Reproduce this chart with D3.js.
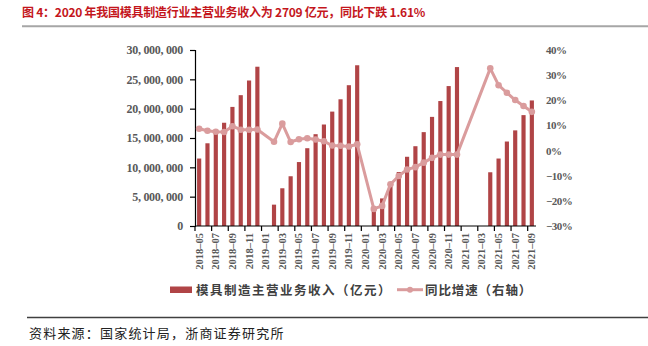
<!DOCTYPE html>
<html>
<head>
<meta charset="utf-8">
<script src="https://cdn.jsdelivr.net/npm/d3@7"></script>
<style>
  html, body { margin: 0; padding: 0; background: #fff; }
  svg { display: block; }
</style>
</head>
<body>
<svg id="chart" width="648" height="346"></svg>
<script>
// Monthly categories, 2018-05 through 2021-09
const months = [
  "2018-05","2018-06","2018-07","2018-08","2018-09","2018-10","2018-11","2018-12",
  "2019-01","2019-02","2019-03","2019-04","2019-05","2019-06","2019-07","2019-08","2019-09","2019-10","2019-11","2019-12",
  "2020-01","2020-02","2020-03","2020-04","2020-05","2020-06","2020-07","2020-08","2020-09","2020-10","2020-11","2020-12",
  "2021-01","2021-02","2021-03","2021-04","2021-05","2021-06","2021-07","2021-08","2021-09"
];

// Cumulative main business revenue (left axis); null = not reported
const revenue = [
  11500000, 14100000, 15800000, 17600000, 20300000, 22300000, 24800000, 27150000,
  null, 3640000, 6430000, 8480000, 10900000, 13260000, 15650000, 17300000, 19500000, 21600000, 24000000, 27400000,
  null, 2900000, 4700000, 7100000, 9200000, 11800000, 13600000, 16000000, 18600000, 21300000, 23850000, 27090000,
  null, null, null, 9160000, 11500000, 14400000, 16300000, 18900000, 21400000
];

// Year-on-year growth, % (right axis)
const growth = [
  8.7, 7.9, 7.5, 7.4, 9.7, 8.3, 8.3, 8.4,
  null, 3.5, 10.7, 3.4, 4.5, 4.9, 4.4, 3.7, 2.0, 1.9, 1.6, 2.5,
  null, -23.2, -22.0, -13.4, -10.1, -7.5, -6.6, -4.8, -2.9, -1.6, -1.6, -1.61,
  null, null, null, 32.7, 26.0, 23.0, 20.1, 17.7, 15.4
];

const leftTicks = [0, 5000000, 10000000, 15000000, 20000000, 25000000, 30000000];
const rightTicks = [-30, -20, -10, 0, 10, 20, 30, 40];

const titleText = "图 4：2020 年我国模具制造行业主营业务收入为 2709 亿元，同比下跌 1.61%";
const legendBar = "模具制造主营业务收入（亿元）";
const legendLine = "同比增速（右轴）";
const sourceText = "资料来源：国家统计局，浙商证券研究所";

const svg = d3.select("#chart");
const plot = { left: 195, right: 536, top: 50, bottom: 226 };

const barColor = "#B04446";
const lineColor = "#DA9C9D";
const axisText = "#595959";
const serif = "'Liberation Serif', 'DejaVu Serif', serif";
const cjk = "'Noto Sans CJK SC', sans-serif";

const x = d3.scaleBand().domain(months).range([plot.left, plot.right]).paddingInner(0.5).paddingOuter(0.25);
const yL = d3.scaleLinear().domain([0, 30000000]).range([plot.bottom, plot.top]);
const yR = d3.scaleLinear().domain([-30, 40]).range([plot.bottom, plot.top]);
const step = x.step();

// Title and rule
svg.append("text")
  .attr("x", 22).attr("y", 17)
  .attr("font-family", cjk).attr("font-weight", "bold").attr("font-size", 12)
  .attr("letter-spacing", -0.25)
  .attr("fill", "#C4161C")
  .text(titleText);
svg.append("line")
  .attr("x1", 22).attr("x2", 648).attr("y1", 26.3).attr("y2", 26.3)
  .attr("stroke", "#A6A6A6").attr("stroke-width", 2);

// Bars
const rows = months.map((m, i) => ({ m, v: revenue[i], g: growth[i] }));
svg.append("g").selectAll("rect")
  .data(rows.filter(d => d.v != null))
  .join("rect")
  .attr("x", d => x(d.m))
  .attr("width", x.bandwidth())
  .attr("y", d => yL(d.v))
  .attr("height", d => yL(0) - yL(d.v))
  .attr("fill", barColor);

// Left axis
const gL = svg.append("g").attr("transform", `translate(${plot.left},0)`)
  .call(d3.axisLeft(yL).tickValues(leftTicks).tickSize(5).tickPadding(7)
    .tickFormat(d => d === 0 ? "0" : d3.format(",")(d).replace(/,/g, ", ")));
gL.select(".domain").attr("stroke", "#000").attr("stroke-width", 1.2);
gL.selectAll(".tick line").attr("stroke", "#000").attr("stroke-width", 1.2);
gL.selectAll(".tick text").attr("font-family", serif).attr("font-size", 12)
  .attr("fill", axisText).attr("font-weight", "bold").attr("letter-spacing", -0.3);

// Right axis (labels only)
const gR = svg.append("g").attr("transform", `translate(${plot.right},0)`)
  .call(d3.axisRight(yR).tickValues(rightTicks).tickSize(0).tickPadding(10)
    .tickFormat(d => (d < 0 ? "\u2212" + Math.abs(d) : d) + "%"));
gR.select(".domain").remove();
gR.selectAll(".tick text").attr("font-family", serif).attr("font-size", 11)
  .attr("fill", axisText).attr("font-weight", "bold").attr("letter-spacing", -0.5);

// Bottom axis: tick marks on every second category boundary, labels on every second category
const gX = svg.append("g");
gX.append("line")
  .attr("x1", plot.left).attr("x2", plot.right)
  .attr("y1", plot.bottom).attr("y2", plot.bottom)
  .attr("stroke", "#000").attr("stroke-width", 1.2);
const tickIdx = d3.range(0, months.length + 1, 2);
gX.selectAll("line.tk").data(tickIdx).join("line")
  .attr("class", "tk")
  .attr("x1", i => plot.left + i * step).attr("x2", i => plot.left + i * step)
  .attr("y1", plot.bottom).attr("y2", plot.bottom + 5)
  .attr("stroke", "#000").attr("stroke-width", 1.2);
gX.selectAll("text").data(months.filter((m, i) => i % 2 === 0)).join("text")
  .attr("transform", m => `translate(${x(m) + x.bandwidth() / 2 + 3.5},${plot.bottom + 7}) rotate(-90)`)
  .attr("text-anchor", "end")
  .attr("font-family", serif).attr("font-size", 10.5).attr("font-weight", "bold")
  .attr("fill", axisText)
  .text(m => m.replace("-", "\u2013"));

// Growth line (connects across unreported months)
const pts = rows.filter(d => d.g != null);
const line = d3.line()
  .x(d => x(d.m) + x.bandwidth() / 2)
  .y(d => yR(d.g));
svg.append("path")
  .datum(pts)
  .attr("d", line)
  .attr("fill", "none")
  .attr("stroke", lineColor)
  .attr("stroke-width", 3)
  .attr("stroke-linejoin", "round");
svg.append("g").selectAll("circle")
  .data(pts)
  .join("circle")
  .attr("cx", d => x(d.m) + x.bandwidth() / 2)
  .attr("cy", d => yR(d.g))
  .attr("r", 3.3)
  .attr("fill", lineColor);

// Legend
const lg = svg.append("g");
lg.append("rect").attr("x", 170).attr("y", 286.5).attr("width", 22).attr("height", 6.5).attr("fill", barColor);
lg.append("text").attr("x", 196).attr("y", 294.5)
  .attr("font-family", cjk).attr("font-weight", "bold").attr("font-size", 12.5)
  .attr("letter-spacing", 1.5).attr("fill", "#404040").text(legendBar);
lg.append("line").attr("x1", 397).attr("x2", 423).attr("y1", 289.7).attr("y2", 289.7)
  .attr("stroke", lineColor).attr("stroke-width", 3);
lg.append("circle").attr("cx", 410).attr("cy", 289.7).attr("r", 3).attr("fill", lineColor);
lg.append("text").attr("x", 425).attr("y", 294.5)
  .attr("font-family", cjk).attr("font-weight", "bold").attr("font-size", 12.5)
  .attr("letter-spacing", 0.9).attr("fill", "#404040").text(legendLine);

// Source note
svg.append("line")
  .attr("x1", 27).attr("x2", 648).attr("y1", 317.5).attr("y2", 317.5)
  .attr("stroke", "#404040").attr("stroke-width", 1.5);
svg.append("text").attr("x", 29).attr("y", 338)
  .attr("font-family", cjk).attr("font-size", 13).attr("letter-spacing", 1.2)
  .attr("fill", "#222").text(sourceText);
</script>
</body>
</html>
